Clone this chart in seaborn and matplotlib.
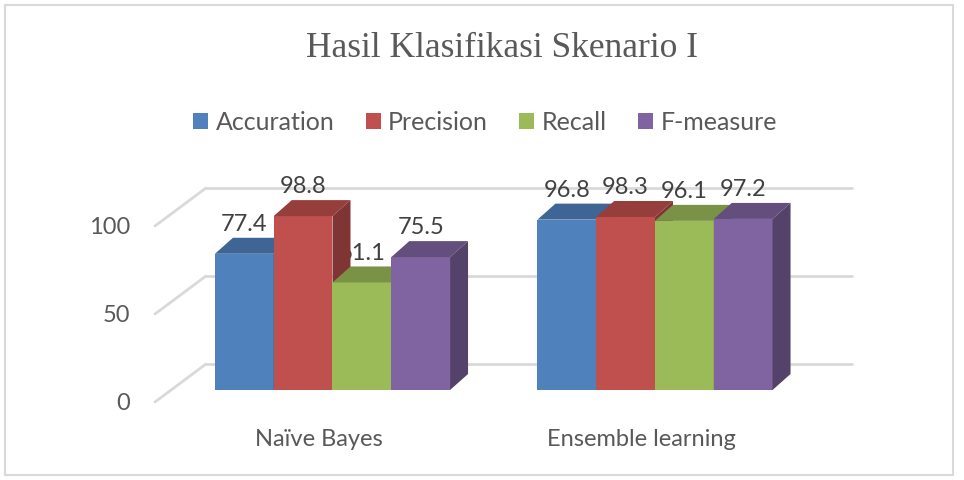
import numpy as np
import pandas as pd
import seaborn as sns
import matplotlib.pyplot as plt
import matplotlib.colors as mcolors
from matplotlib.lines import Line2D
from matplotlib.patches import Polygon, Rectangle
from matplotlib.transforms import ScaledTranslation, IdentityTransform

# Data
models = ['Naïve Bayes', 'Ensemble learning']
metrics = ['Accuration', 'Precision', 'Recall', 'F-measure']
accuration = [77.4, 96.8]
precision = [98.8, 98.3]
recall = [61.1, 96.1]
f_measure = [75.5, 97.2]
colors = ['#4F81BD', '#C0504D', '#9BBB59', '#8064A2']
yticks = [0, 50, 100]

df = pd.DataFrame({
    'model': models * len(metrics),
    'metric': np.repeat(metrics, len(models)),
    'value': accuration + precision + recall + f_measure,
})

sns.set_style('white')
plt.rcParams['font.family'] = ['Lato', 'DejaVu Sans']

W, H = 964, 480
fig = plt.figure(figsize=(W / 100, H / 100), dpi=100)
ax = fig.add_axes([155 / W, 90 / H, 697 / W, 220 / H])

sns.barplot(data=df, x='model', y='value', hue='metric', hue_order=metrics,
            palette=colors, saturation=1, width=0.729, errorbar=None,
            linewidth=0, ax=ax)

ax.set_xlim(-0.5504, 1.6109)
ax.set_ylim(0, 125)
sns.despine(ax=ax, left=True, bottom=True)
ax.set_xlabel('')
ax.set_ylabel('')
ax.set_yticks(yticks)
ax.tick_params(length=0)
ax.tick_params(axis='y', pad=18, labelsize=17, labelcolor='#595959')
ax.tick_params(axis='x', pad=28, labelsize=17, labelcolor='#595959')

# nudge tick labels to sit on the front edge of the 3D floor
for lab in ax.get_yticklabels():
    lab.set_transform(lab.get_transform() + ScaledTranslation(0, -11 / 100, fig.dpi_scale_trans))
for lab in ax.get_xticklabels():
    lab.set_transform(lab.get_transform() + ScaledTranslation(-14 / 100, 0, fig.dpi_scale_trans))

# legend on top, centred
leg = ax.get_legend()
handles = leg.legend_handles
labels = [t.get_text() for t in leg.get_texts()]
leg.remove()
fig.legend(handles, labels, loc='center', bbox_to_anchor=(485 / W, 1 - 122 / H),
           ncol=4, frameon=False, fontsize=18, handlelength=0.6, handleheight=0.6,
           handletextpad=0.3, columnspacing=1.25, labelcolor='#595959')

# back wall gridlines + side wall diagonals (pixel offsets)
WALL_DX, WALL_UP, WALL_DOWN = 51, 26, 12
ident = IdentityTransform()
x_left = ax.transAxes.transform((0, 0))[0]
x_right = ax.transAxes.transform((1, 0))[0]
for v in yticks:
    y = ax.transData.transform((0, v))[1]
    ax.add_artist(Line2D([x_left + WALL_DX, x_right], [y + WALL_UP, y + WALL_UP],
                         transform=ident, color='#D9D9D9', lw=2, zorder=1, clip_on=False))
    ax.add_artist(Line2D([x_left, x_left + WALL_DX], [y - WALL_DOWN, y + WALL_UP],
                         transform=ident, color='#D9D9D9', lw=2, zorder=1, clip_on=False))

# 3D look: top and side faces for each bar
DX, DY = 18, 16
bars = sorted([p for c in ax.containers for p in c], key=lambda p: p.get_x())
for i, b in enumerate(bars):
    b.set_zorder(3 + i)
    x0, w, h = b.get_x(), b.get_width(), b.get_height()
    px0, py0 = ax.transData.transform((x0, 0))
    px1, py1 = ax.transData.transform((x0 + w, h))
    rgb = np.array(mcolors.to_rgb(b.get_facecolor()))
    top = [(px0, py1), (px1, py1), (px1 + DX, py1 + DY), (px0 + DX, py1 + DY)]
    side = [(px1, py0), (px1 + DX, py0 + DY), (px1 + DX, py1 + DY), (px1, py1)]
    ax.add_artist(Polygon(top, closed=True, transform=ident, facecolor=rgb * 0.78,
                          edgecolor='none', zorder=3.5 + i, clip_on=False))
    ax.add_artist(Polygon(side, closed=True, transform=ident, facecolor=rgb * 0.66,
                          edgecolor='none', zorder=3.5 + i, clip_on=False))
    ax.annotate(f'{h:.1f}', (x0 + w / 2, h), xytext=(0, 21), textcoords='offset points',
                ha='center', va='center', fontsize=17, color='#404040', zorder=2.5)

fig.text(502 / W, 1 - 57 / H, 'Hasil Klasifikasi Skenario I', ha='center', va='baseline',
         fontsize=25.5, family='Liberation Serif', color='#595959')

fig.add_artist(Rectangle((5 / W, 5 / H), 948 / W, 470 / H, transform=fig.transFigure,
                         fill=False, edgecolor='#D9D9D9', lw=1.5))

fig.savefig('out.png', dpi=100)
